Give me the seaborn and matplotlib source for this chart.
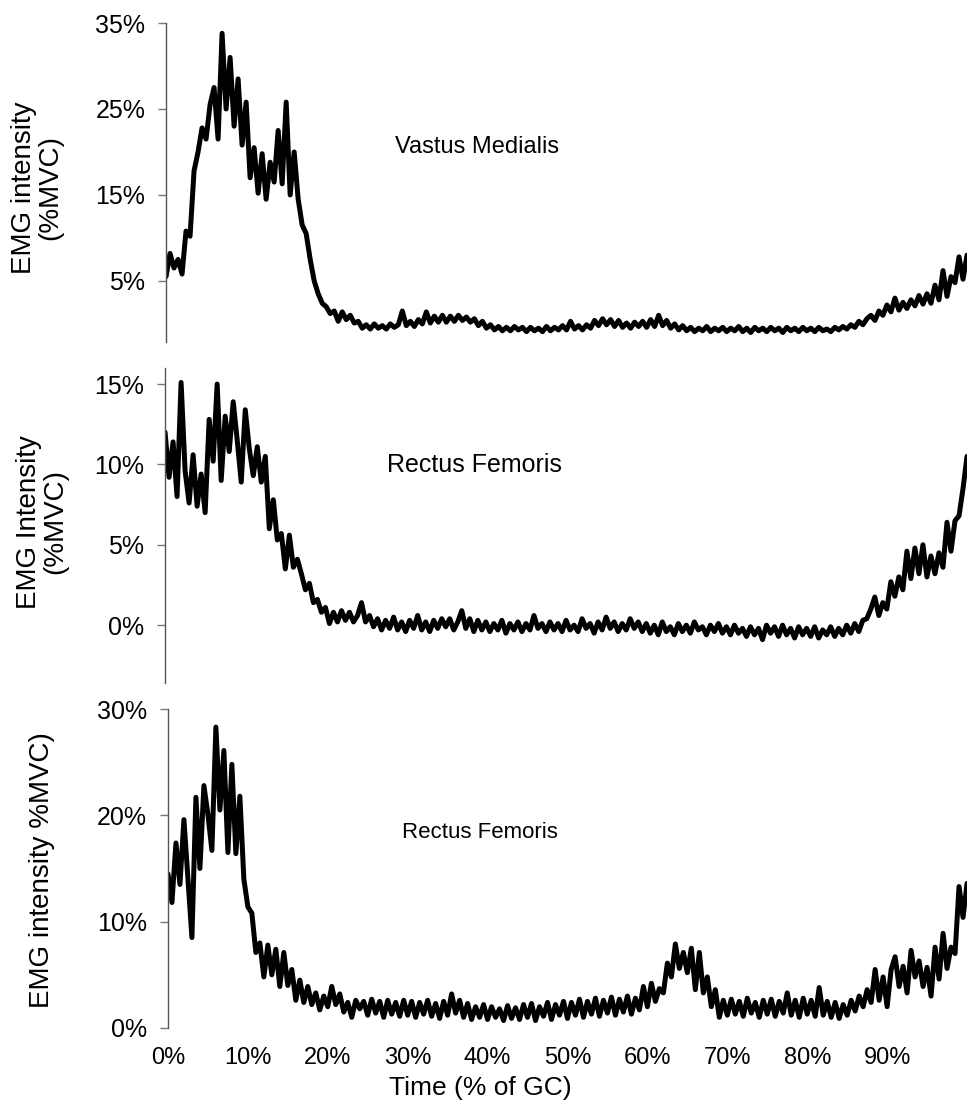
import numpy as np
import pandas as pd
import matplotlib
matplotlib.use("Agg")
import matplotlib.pyplot as plt
import seaborn as sns
from matplotlib.ticker import PercentFormatter, FixedLocator

# ---------------- data ----------------
# time in % of gait cycle, 0.5 % steps
time_pct = [i * 0.5 for i in range(201)]

vastus_medialis = [
    5.5, 8.2, 6.5, 7.5, 5.8, 10.8, 10.2, 17.8, 20.0, 22.8,
    21.5, 25.5, 27.5, 21.5, 33.8, 25.0, 31.0, 23.0, 28.5, 20.8,
    25.8, 17.0, 20.5, 15.2, 19.8, 14.5, 18.8, 16.5, 22.5, 16.3,
    25.8, 15.0, 20.0, 14.5, 11.5, 10.5, 7.5, 5.0, 3.5, 2.4,
    2.0, 1.2, 1.5, 0.3, 1.4, 0.5, 1.0, 0.1, 0.3, -0.5,
    -0.1, -0.6, 0.0, -0.5, -0.2, -0.6, 0.0, -0.4, -0.1, 1.5,
    -0.2, 0.3, -0.3, 0.5, 0.0, 1.4, 0.1, 0.9, 0.2, 1.0,
    0.2, 0.9, 0.3, 1.0, 0.4, 0.8, 0.2, 0.6, -0.2, 0.3,
    -0.5, -0.1, -0.7, -0.3, -0.8, -0.4, -0.8, -0.3, -0.7, -0.4,
    -0.9, -0.4, -0.8, -0.5, -0.9, -0.3, -0.8, -0.4, -0.7, -0.2,
    -0.7, 0.3, -0.6, -0.2, -0.7, -0.1, -0.5, 0.4, -0.2, 0.6,
    -0.1, 0.5, -0.3, 0.4, -0.4, 0.1, -0.5, 0.2, -0.3, 0.3,
    -0.4, 0.5, -0.3, 1.0, -0.2, 0.4, -0.5, 0.0, -0.7, -0.2,
    -0.8, -0.4, -0.9, -0.5, -0.8, -0.3, -0.9, -0.5, -0.8, -0.4,
    -0.9, -0.5, -0.8, -0.3, -0.9, -0.5, -1.0, -0.4, -0.8, -0.5,
    -0.9, -0.4, -0.8, -0.5, -1.0, -0.4, -0.8, -0.5, -0.9, -0.4,
    -0.8, -0.5, -0.9, -0.4, -0.8, -0.6, -0.9, -0.4, -0.7, -0.3,
    -0.6, -0.1, -0.4, 0.3, -0.1, 0.6, 1.0, 0.4, 1.5, 1.0,
    2.2, 1.4, 3.0, 1.6, 2.5, 1.8, 2.8, 2.1, 3.3, 2.3,
    3.5, 2.4, 4.5, 2.8, 6.2, 3.2, 5.5, 4.8, 7.8, 5.2,
    8.0,
]

rectus_femoris_a = [
    12.0, 9.2, 11.4, 8.0, 15.1, 9.6, 7.6, 10.6, 7.4, 9.4,
    7.0, 12.8, 10.2, 15.0, 9.0, 13.0, 10.8, 13.9, 11.5, 8.9,
    13.4, 11.0, 9.3, 11.1, 8.9, 10.5, 6.0, 7.8, 5.3, 5.7,
    3.5, 5.6, 3.6, 4.1, 3.2, 2.2, 2.6, 1.4, 1.6, 0.8,
    1.1, 0.1, 0.8, 0.2, 0.9, 0.3, 0.8, 0.2, 0.6, 1.4,
    0.2, 0.6, -0.1, 0.4, -0.3, 0.3, -0.2, 0.5, -0.3, 0.2,
    -0.4, 0.3, -0.2, 0.6, -0.3, 0.2, -0.4, 0.3, -0.2, 0.4,
    -0.1, 0.4, -0.3, 0.2, 0.9, -0.2, 0.4, -0.4, 0.3, -0.3,
    0.2, -0.4, 0.1, -0.3, 0.3, -0.5, 0.1, -0.3, 0.2, -0.4,
    0.1, -0.3, 0.6, -0.2, 0.1, -0.4, 0.2, -0.3, 0.1, -0.4,
    0.3, -0.3, 0.0, -0.4, 0.4, -0.2, 0.1, -0.5, 0.2, -0.3,
    0.5, -0.2, 0.2, -0.4, 0.1, -0.3, 0.4, -0.2, 0.2, -0.4,
    0.1, -0.5, 0.0, -0.6, 0.2, -0.4, -0.1, -0.6, 0.1, -0.4,
    0.0, -0.5, 0.2, -0.3, -0.1, -0.6, 0.0, -0.4, 0.1, -0.5,
    -0.1, -0.6, 0.0, -0.5, -0.2, -0.7, -0.1, -0.6, -0.2, -0.9,
    0.0, -0.5, -0.1, -0.7, 0.0, -0.6, -0.2, -0.8, -0.1, -0.6,
    -0.2, -0.7, -0.1, -0.8, -0.3, -0.6, -0.1, -0.7, -0.2, -0.6,
    0.0, -0.5, 0.1, -0.4, 0.3, 0.4, 1.0, 1.75, 0.6, 1.4,
    1.0, 2.7, 1.8, 3.0, 2.2, 4.6, 2.9, 4.8, 3.2, 5.0,
    3.0, 4.3, 3.2, 4.5, 3.6, 6.4, 4.6, 6.5, 6.8, 8.5,
    10.5,
]

rectus_femoris_b = [
    14.5, 11.8, 17.4, 13.5, 19.6, 14.0, 8.5, 21.7, 15.0, 22.8,
    20.1, 16.7, 28.3, 20.5, 26.1, 16.5, 24.8, 16.4, 21.8, 14.0,
    11.4, 10.8, 7.1, 8.0, 4.8, 7.8, 5.0, 7.4, 3.9, 7.1,
    4.0, 5.5, 2.6, 4.5, 2.4, 3.9, 2.2, 3.3, 1.7, 3.0,
    2.0, 3.9, 2.2, 3.2, 1.5, 2.4, 1.0, 2.6, 1.8, 2.5,
    1.2, 2.7, 1.4, 2.5, 1.0, 2.6, 1.3, 2.4, 1.1, 2.6,
    1.2, 2.5, 1.0, 2.4, 1.3, 2.6, 1.1, 2.3, 0.9, 2.5,
    1.2, 3.2, 1.4, 2.6, 1.0, 2.3, 0.8, 2.0, 1.0, 2.2,
    0.8, 2.0, 1.0, 1.8, 0.7, 2.1, 0.9, 1.9, 0.8, 2.2,
    1.0, 2.3, 0.7, 2.0, 1.1, 2.4, 0.8, 2.2, 1.2, 2.5,
    0.9, 2.4, 1.2, 2.7, 1.0, 2.5, 1.3, 2.8, 1.1, 2.6,
    1.4, 2.9, 1.2, 2.7, 1.5, 3.0, 1.3, 2.8, 1.7, 3.9,
    2.0, 4.2, 2.5, 3.7, 3.3, 6.1, 4.8, 7.9, 5.6, 7.1,
    5.2, 7.5, 3.6, 7.1, 3.3, 4.8, 2.0, 3.6, 1.0, 2.6,
    1.2, 2.7, 1.3, 2.5, 1.1, 2.8, 1.4, 2.4, 1.0, 2.6,
    1.3, 2.7, 1.1, 2.5, 1.4, 3.3, 1.2, 2.6, 1.0, 2.8,
    1.3, 2.6, 1.1, 3.8, 1.2, 2.5, 1.0, 2.4, 0.9, 2.2,
    1.2, 2.6, 1.6, 3.0, 2.0, 3.6, 2.4, 5.5, 2.6, 4.8,
    2.0, 5.5, 6.7, 3.9, 5.8, 3.3, 7.3, 4.8, 6.3, 3.9,
    5.7, 3.0, 7.6, 4.6, 8.9, 5.6, 7.6, 7.0, 13.3, 10.4,
    13.6,
]

panel_titles = ["Vastus Medialis", "Rectus Femoris", "Rectus Femoris"]
y_labels = ["EMG intensity\n(%MVC)", "EMG Intensity\n(%MVC)", "EMG intensity %MVC)"]
y_ticks = [[5, 15, 25, 35], [0, 5, 10, 15], [0, 10, 20, 30]]
y_limits = [(-2.1, 35), (-3.6, 16.0), (0, 30)]
x_ticks = [0, 10, 20, 30, 40, 50, 60, 70, 80, 90]
x_label = "Time (% of GC)"

# ---------------- style ----------------
sns.set_style("white")
plt.rcParams["font.family"] = ["Liberation Sans", "DejaVu Sans"]
plt.rcParams["text.color"] = "black"
plt.rcParams["xtick.color"] = "black"
plt.rcParams["ytick.color"] = "black"

fig = plt.figure(figsize=(9.68, 11.07), dpi=100)

axes_boxes = [
    (0.1715, 0.6911, 0.8275, 0.2881),
    (0.1705, 0.3830, 0.8285, 0.2846),
    (0.1735, 0.0714, 0.8255, 0.2881),
]
title_pos = [(477, 147), (474, 465), (480, 832)]
title_size = [17, 18, 16]
ylabel_pos = [(37, 188), (42, 522), (42, 870)]

series = [vastus_medialis, rectus_femoris_a, rectus_femoris_b]

for i in range(3):
    ax = fig.add_axes(axes_boxes[i])
    df = pd.DataFrame({"time": time_pct, "emg": series[i]})
    sns.lineplot(data=df, x="time", y="emg", ax=ax, color="black",
                 linewidth=3.6, estimator=None, sort=False)
    ax.set_xlim(0, 100)
    ax.set_ylim(*y_limits[i])
    ax.set_xlabel("")
    ax.set_ylabel("")
    for s in ["top", "right", "bottom"]:
        ax.spines[s].set_visible(False)
    ax.spines["left"].set_color("#555555")
    ax.spines["left"].set_linewidth(1.0)
    ax.yaxis.set_major_locator(FixedLocator(y_ticks[i]))
    ax.yaxis.set_major_formatter(PercentFormatter(xmax=100, decimals=0))
    ax.tick_params(axis="y", direction="out", length=6, width=1.0,
                   color="#777777", labelcolor="black", labelsize=18,
                   pad=9, left=True)
    if i < 2:
        ax.set_xticks([])
    else:
        ax.set_xticks(x_ticks)
        ax.xaxis.set_major_formatter(PercentFormatter(xmax=100, decimals=0))
        ax.tick_params(axis="x", length=0, labelsize=17, pad=14,
                       labelcolor="black")
    ax.patch.set_alpha(0)

    fx, fy = title_pos[i]
    fig.text(fx / 968, 1 - fy / 1107, panel_titles[i], ha="center",
             va="center", fontsize=title_size[i], color="black")
    lx, ly = ylabel_pos[i]
    fig.text(lx / 968, 1 - ly / 1107, y_labels[i], ha="center", va="center",
             rotation=90, fontsize=20, multialignment="center",
             linespacing=1.0, color="black")

fig.text(480 / 968, 1 - 1088 / 1107, x_label, ha="center", va="center",
         fontsize=19, color="black")

fig.savefig("out.png", dpi=100)
